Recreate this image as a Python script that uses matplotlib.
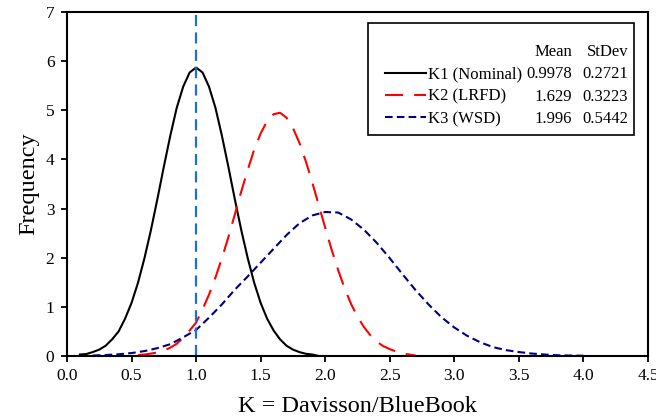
import matplotlib
matplotlib.use("Agg")
import matplotlib.pyplot as plt
from matplotlib.patches import Rectangle

plt.rcParams["font.family"] = "serif"
plt.rcParams["font.serif"] = ["Liberation Serif", "DejaVu Serif"]
plt.rcParams["lines.scale_dashes"] = False

# K1 (Nominal)
k1_x = [0.10, 0.15, 0.20, 0.25, 0.30, 0.35, 0.40, 0.45, 0.50, 0.55, 0.60, 0.65,
        0.70, 0.75, 0.80, 0.85, 0.90, 0.95, 1.00, 1.05, 1.10, 1.15, 1.20, 1.25,
        1.30, 1.35, 1.40, 1.45, 1.50, 1.55, 1.60, 1.65, 1.70, 1.75, 1.80, 1.85,
        1.90, 1.95]
k1_y = [0.03, 0.04, 0.08, 0.13, 0.21, 0.34, 0.50, 0.76, 1.08, 1.49, 1.99, 2.56,
        3.19, 3.85, 4.48, 5.05, 5.48, 5.77, 5.87, 5.77, 5.48, 5.05, 4.48, 3.85,
        3.19, 2.56, 1.99, 1.49, 1.08, 0.76, 0.52, 0.34, 0.21, 0.13, 0.08, 0.045,
        0.03, 0.0]

# K2 (LRFD)
k2_x = [0.55, 0.60, 0.65, 0.70, 0.75, 0.80, 0.85, 0.90, 0.95, 1.00, 1.05, 1.10,
        1.15, 1.20, 1.25, 1.30, 1.35, 1.40, 1.45, 1.50, 1.55, 1.60, 1.65, 1.70,
        1.75, 1.80, 1.85, 1.90, 1.95, 2.00, 2.05, 2.10, 2.15, 2.20, 2.25, 2.30,
        2.35, 2.40, 2.45, 2.50, 2.55, 2.60, 2.65, 2.70]
k2_y = [0.02, 0.03, 0.05, 0.07, 0.11, 0.17, 0.25, 0.37, 0.52, 0.68, 0.95, 1.25,
        1.60, 1.99, 2.42, 2.88, 3.35, 3.79, 4.20, 4.53, 4.78, 4.92, 4.95, 4.85,
        4.64, 4.34, 3.96, 3.53, 3.07, 2.61, 2.16, 1.75, 1.38, 1.06, 0.80, 0.59,
        0.42, 0.29, 0.20, 0.14, 0.09, 0.05, 0.03, 0.01]

# K3 (WSD)
k3_x = [0.2, 0.3, 0.4, 0.5, 0.6, 0.7, 0.8, 0.9, 1.0, 1.1, 1.2, 1.3, 1.4, 1.5,
        1.6, 1.7, 1.8, 1.9, 2.0, 2.1, 2.2, 2.3, 2.4, 2.5, 2.6, 2.7, 2.8, 2.9,
        3.0, 3.1, 3.2, 3.3, 3.4, 3.5, 3.6, 3.7, 3.8, 3.9, 4.0]
k3_y = [0.01, 0.02, 0.035, 0.06, 0.10, 0.16, 0.24, 0.38, 0.53, 0.78, 1.05, 1.35,
        1.62, 1.90, 2.18, 2.46, 2.70, 2.86, 2.93, 2.92, 2.78, 2.57, 2.30, 1.99,
        1.66, 1.34, 1.05, 0.79, 0.58, 0.41, 0.28, 0.18, 0.12, 0.08, 0.05, 0.03,
        0.015, 0.01, 0.005]

labels = ["K1 (Nominal)", "K2 (LRFD)", "K3 (WSD)"]
means = ["0.9978", "1.629", "1.996"]
stdevs = ["0.2721", "0.3223", "0.5442"]
k_ref = 1.0

fig = plt.figure(figsize=(6.56, 4.17), dpi=100)
ax = fig.add_axes([0.1021, 0.1463, 0.8857, 0.8249])

l1, = ax.plot(k1_x, k1_y, color="black", lw=1.5)
l2, = ax.plot(k2_x, k2_y, color="red", lw=1.5, dashes=(13, 8))
l3, = ax.plot(k3_x, k3_y, color="#000080", lw=1.5, dashes=(5.5, 3))
ax.axvline(k_ref, color="#1f6fd1", lw=1.6, dashes=(8, 4.5))

ax.set_xlim(0, 4.5)
ax.set_ylim(0, 7)
ax.set_xticks([0.5 * i for i in range(10)])
ax.set_xticklabels(["%.1f" % (0.5 * i) for i in range(10)])
ax.set_yticks(range(8))
ax.tick_params(labelsize=12.5, length=4, width=1.3, pad=5,
               top=False, right=False)
for s in ax.spines.values():
    s.set_linewidth(1.5)

ax.set_xlabel("K = Davisson/BlueBook", fontsize=17.5, labelpad=8)
ax.set_ylabel("Frequency", fontsize=17.5, labelpad=5)

# legend with mean / stdev columns
ax.add_patch(Rectangle((0.518, 0.6424), 0.458, 0.3266, transform=ax.transAxes,
                       fill=False, lw=1.2, ec="black", zorder=5))
leg = ax.legend([l1, l2, l3], labels, loc="upper left",
                bbox_to_anchor=(0.547, 0.842), frameon=False, fontsize=12,
                borderpad=0, borderaxespad=0, handlelength=2.45,
                handletextpad=0.12, labelspacing=0.38)

fig.canvas.draw()
inv = ax.transAxes.inverted()
rows = []
for t in leg.get_texts():
    bb = t.get_window_extent()
    rows.append(inv.transform(((bb.x0 + bb.x1) / 2, (bb.y0 + bb.y1) / 2))[1])
step = rows[0] - rows[1]

ax.text(0.869, rows[0] + step, "Mean", ha="right", va="center",
        fontsize=12, transform=ax.transAxes)
ax.text(0.966, rows[0] + step, "StDev", ha="right", va="center",
        fontsize=12, transform=ax.transAxes)
for y, m, s in zip(rows, means, stdevs):
    ax.text(0.869, y, m, ha="right", va="center", fontsize=12,
            transform=ax.transAxes)
    ax.text(0.966, y, s, ha="right", va="center", fontsize=12,
            transform=ax.transAxes)

fig.savefig("out.png", dpi=100)
